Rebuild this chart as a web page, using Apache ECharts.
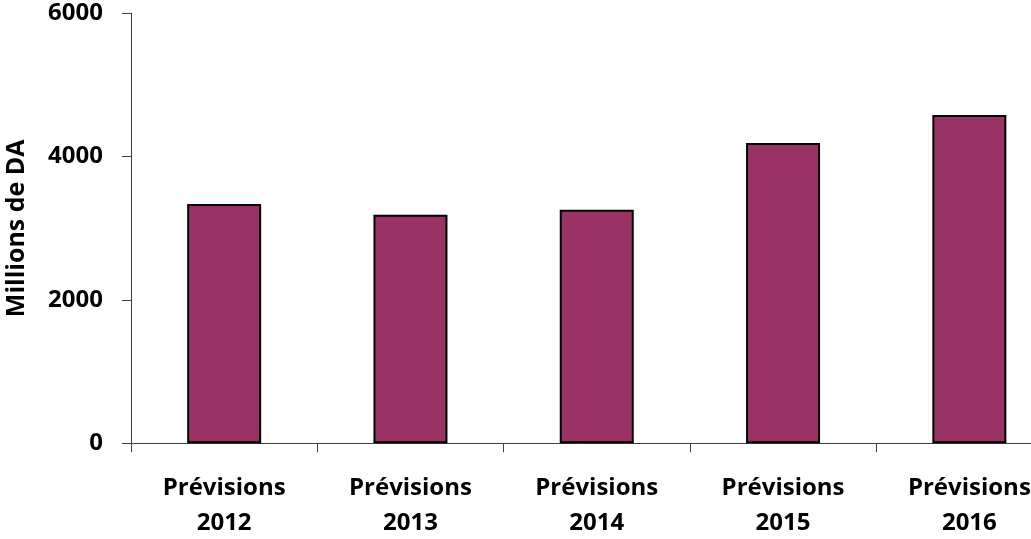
<!DOCTYPE html>
<html>
<head>
<meta charset="utf-8">
<script src="https://cdn.jsdelivr.net/npm/echarts@6/dist/echarts.min.js"></script>
<style>
html,body{margin:0;padding:0;background:#fff;}
#chart{width:1031px;height:539px;}
</style>
</head>
<body>
<div id="chart"></div>
<script>
const categories = ["Prévisions\n2012", "Prévisions\n2013", "Prévisions\n2014", "Prévisions\n2015", "Prévisions\n2016"];
const values = [3340, 3190, 3260, 4190, 4580];
const yTicks = [0, 2000, 4000, 6000];
const yAxisName = "Millions de DA";

const FONT = "Open Sans";
const chart = echarts.init(document.getElementById('chart'));
chart.setOption({
  animation: false,
  backgroundColor: '#ffffff',
  grid: { left: 131, top: 13.3, bottom: 95.7, right: -31.5, containLabel: false, outerBoundsMode: 'none' },
  xAxis: {
    type: 'category',
    data: categories,
    axisLine: { lineStyle: { color: '#404040', width: 1 } },
    axisTick: { show: true, length: 9, alignWithLabel: false, lineStyle: { color: '#404040' } },
    axisLabel: {
      interval: 0, margin: 27, color: '#000', fontFamily: FONT, fontWeight: 'bold', fontSize: 24, lineHeight: 35
    }
  },
  yAxis: {
    type: 'value',
    min: yTicks[0], max: yTicks[yTicks.length - 1], interval: 2000,
    name: yAxisName,
    nameLocation: 'middle',
    nameRotate: 90,
    nameGap: 102,
    nameTextStyle: { color: '#000', fontFamily: FONT, fontWeight: 'bold', fontSize: 25 },
    axisLine: { show: true, lineStyle: { color: '#404040', width: 1 } },
    axisTick: { show: true, length: 9, lineStyle: { color: '#404040' } },
    splitLine: { show: false },
    axisLabel: { margin: 28, color: '#000', fontFamily: FONT, fontWeight: 'bold', fontSize: 24, formatter: v => String(v) }
  },
  series: [{
    type: 'bar',
    data: values,
    barWidth: 74,
    itemStyle: { color: '#993366', borderColor: '#000', borderWidth: 2 }
  }]
});
</script>
</body>
</html>
